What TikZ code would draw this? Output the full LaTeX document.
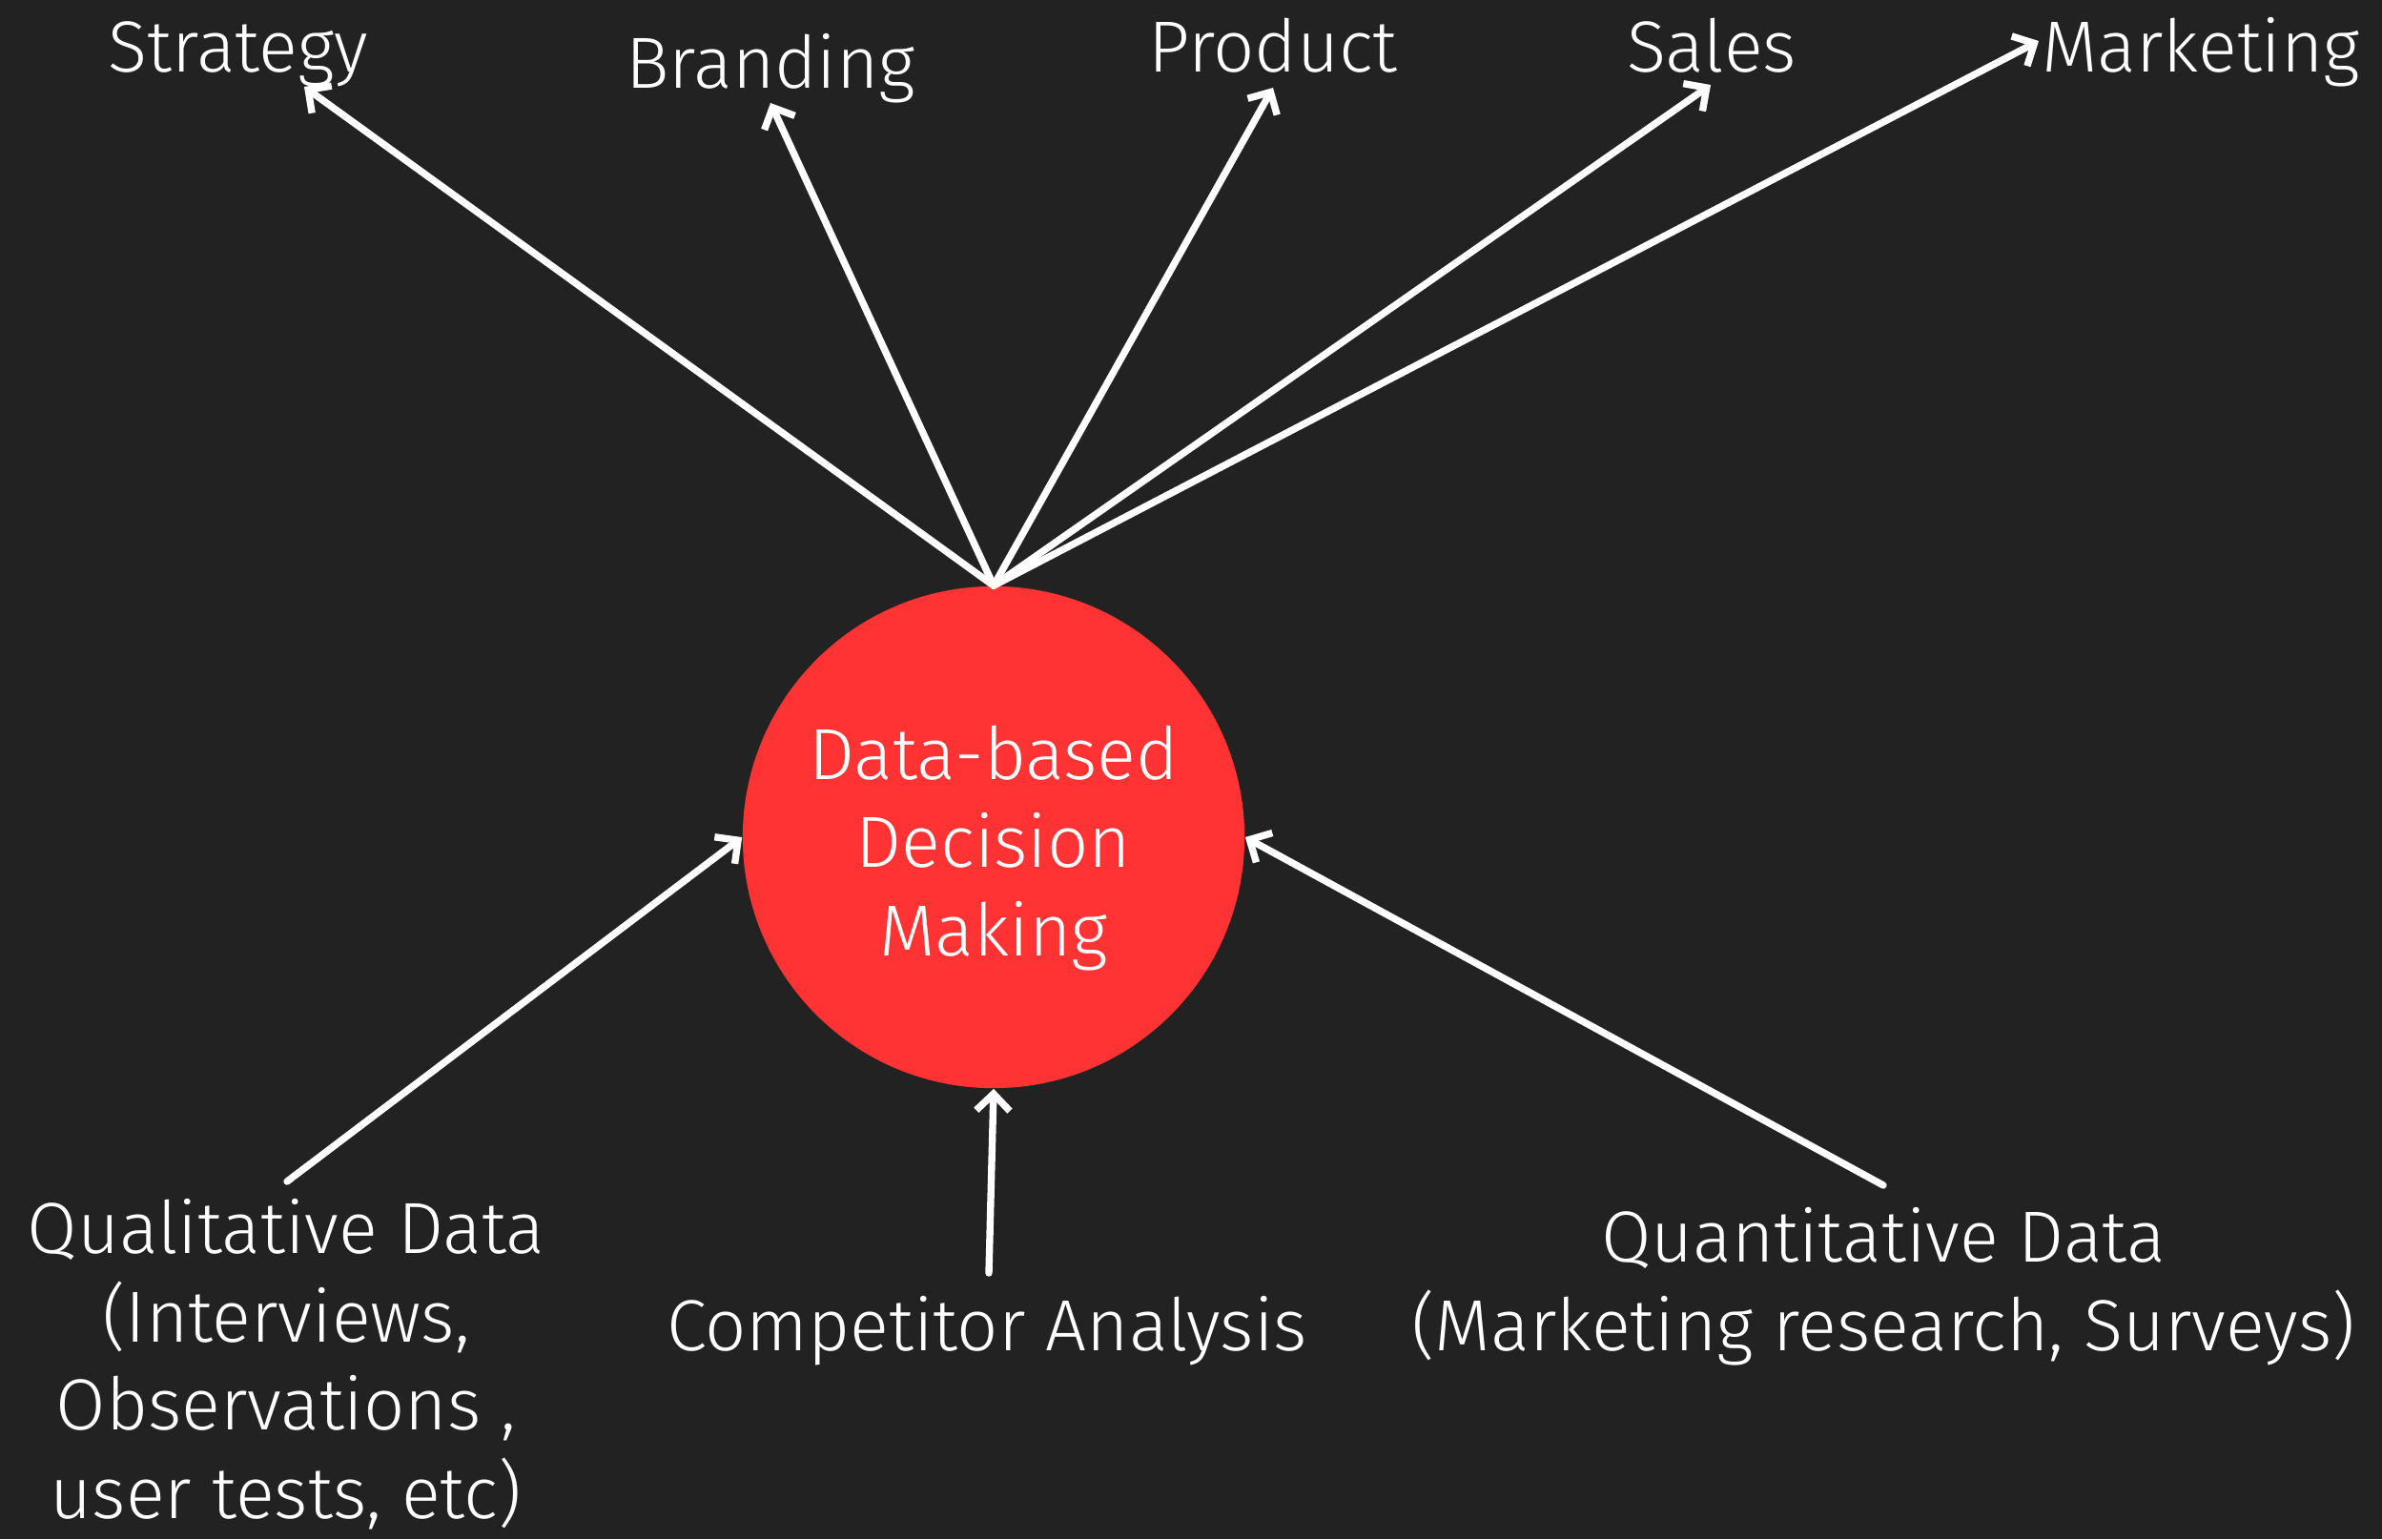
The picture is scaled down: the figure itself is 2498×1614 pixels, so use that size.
\documentclass[tikz,border=0pt]{standalone}
\usepackage{fontspec}
\setmainfont{Fira Sans Light}
\usetikzlibrary{arrows.meta}
\definecolor{bg}{HTML}{222222}
\definecolor{redc}{HTML}{FF3333}
\begin{document}
\begin{tikzpicture}[x=0.01cm,y=-0.01cm,
  lbl/.style={text=white, inner sep=0pt, font=\fontsize{21.6}{26.3}\selectfont},
  arr/.style={draw=white, line width=2.1pt, line cap=round, line join=round,
    -{Straight Barb[length=5pt,width=10pt,line width=2.1pt]}}]
\fill[bg] (0,0) rectangle (2498,1614);
\useasboundingbox (0,0) rectangle (2498,1614);
\node[circle, fill=redc, minimum size=5.26cm, inner sep=0pt] (c) at (1042,878) {};
\node[lbl, align=center, anchor=base] (ct) at (1042,1002) {Data-based\\Decision\\Making};
% top labels
\node[lbl, anchor=base] (strategy) at (250,75) {Strategy};
\node[lbl, anchor=base] (branding) at (808,92) {Branding};
\node[lbl, anchor=base] (product) at (1335,75) {Product};
\node[lbl, anchor=base] (sales) at (1795,75) {Sales};
\node[lbl, anchor=base] (marketing) at (2308,75) {Marketing};
% bottom labels
\node[lbl, align=center, anchor=base] (qual) at (300,1592) {Qualitative Data\\(Interviews,\\Observations ,\\user tests, etc)};
\node[lbl, anchor=base] (comp) at (1035,1416) {Competitor Analysis};
\node[lbl, align=center, anchor=base] (quant) at (1975,1416) {Quantitative Data\\(Marketing research, Surveys)};
% arrow ends
\coordinate (tS) at (319,91);
\coordinate (tB) at (808,108);
\coordinate (tP) at (1335,92);
\coordinate (tSa) at (1794,89);
\coordinate (tM) at (2138,43);
\coordinate (sQl) at (301,1239);
\coordinate (sC) at (1037,1335);
\coordinate (sQn) at (1975,1243);
\draw[arr] (c.north) -- (tS);
\draw[arr] (c.north) -- (tB);
\draw[arr] (c.north) -- (tP);
\draw[arr] (c.north) -- (tSa);
\draw[arr] (c.north) -- (tM);
\draw[arr] (sQl) -- (c.west);
\draw[arr] (sC) -- (c.south);
\draw[arr] (sQn) -- (c.east);
\end{tikzpicture}
\end{document}
